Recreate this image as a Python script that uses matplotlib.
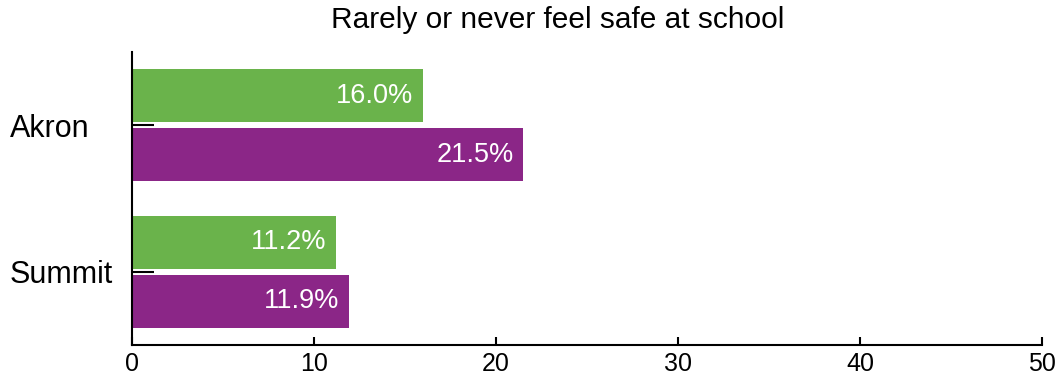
import matplotlib
matplotlib.use("Agg")
import matplotlib.pyplot as plt
import numpy as np

categories = ["Akron", "Summit"]
green_vals = [16.0, 11.2]
purple_vals = [21.5, 11.9]
xticks = [0, 10, 20, 30, 40, 50]
title = "Rarely or never feel safe at school"

GREEN = "#6ab34b"
PURPLE = "#8b2687"

plt.rcParams["font.family"] = ["Liberation Sans", "DejaVu Sans"]

fig = plt.figure(figsize=(10.59, 3.75), dpi=100)
ax = fig.add_axes([132 / 1059, 1 - 345 / 375, (1042 - 132) / 1059, (345 - 52) / 375])

y = np.arange(len(categories))
h = 0.363
off = 0.202
ax.barh(y - off, green_vals, height=h, color=GREEN)
ax.barh(y + off, purple_vals, height=h, color=PURPLE)

for yi, g, p in zip(y, green_vals, purple_vals):
    ax.annotate(f"{g:.1f}%", (g, yi - off), xytext=(-7, 0), textcoords="offset points",
                ha="right", va="center", color="white", fontsize=19.5)
    ax.annotate(f"{p:.1f}%", (p, yi + off), xytext=(-7, 0), textcoords="offset points",
                ha="right", va="center", color="white", fontsize=19.5)

ax.set_xlim(0, 50)
ax.set_ylim(1.5, -0.5)
ax.set_yticks(y)
ax.set_yticklabels(categories, fontsize=22)
ax.set_xticks(xticks)
ax.set_xticklabels([str(t) for t in xticks], fontsize=18)
ax.tick_params(axis="y", direction="in", length=16, width=1.5, pad=88)
ax.tick_params(axis="x", direction="in", length=6, width=1.5, pad=5)
for lab in ax.get_yticklabels():
    lab.set_horizontalalignment("left")
ax.spines["top"].set_visible(False)
ax.spines["right"].set_visible(False)
ax.spines["left"].set_linewidth(1.5)
ax.spines["bottom"].set_linewidth(1.5)

fig.text(558 / 1059, 1 - 20 / 375, title, ha="center", va="center", fontsize=21.5)

fig.savefig("out.png", dpi=100)
